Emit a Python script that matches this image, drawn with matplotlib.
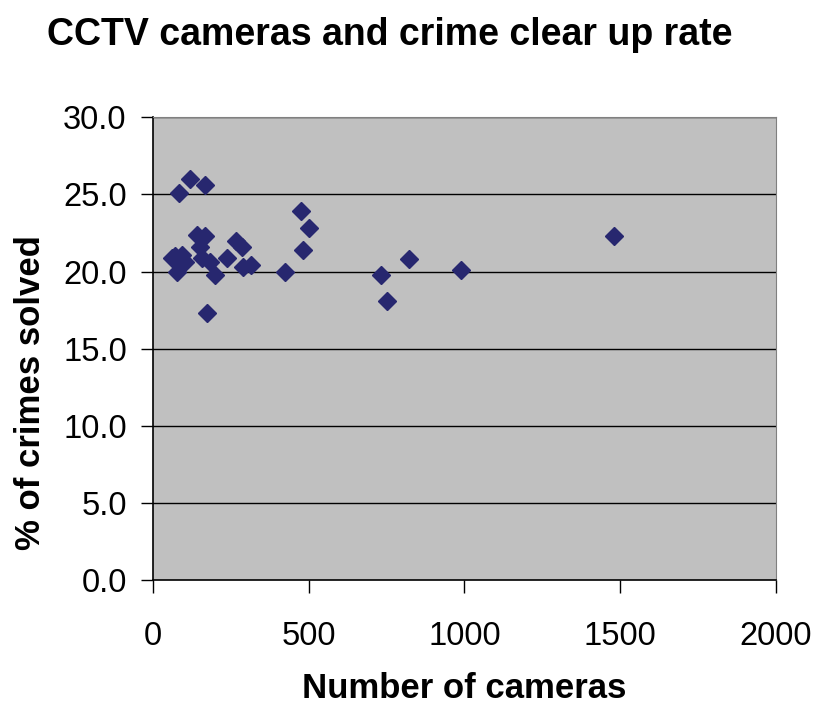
import matplotlib.pyplot as plt

plt.rcParams['font.family'] = ['Liberation Sans', 'DejaVu Sans']

# Number of cameras per area and % of crimes solved
cameras = [84, 117, 167, 475, 501, 483, 423, 174, 199, 60, 92, 76, 103, 70,
           140, 167, 151, 156, 183, 236, 266, 285, 290, 315, 823, 989, 1480,
           731, 750]
solved = [25.1, 26.0, 25.6, 23.9, 22.8, 21.4, 20.0, 17.3, 19.8, 20.9, 21.1,
          20.0, 20.6, 21.0, 22.4, 22.3, 21.6, 20.9, 20.6, 20.9, 22.0, 21.6,
          20.3, 20.4, 20.8, 20.1, 22.3, 19.8, 18.1]

x_ticks = [0, 500, 1000, 1500, 2000]
y_ticks = [0, 5, 10, 15, 20, 25, 30]

fig = plt.figure(figsize=(8.19, 7.06), dpi=100)
ax = fig.add_axes([0.187, 0.178, 0.760, 0.656])
ax.set_facecolor('#c0c0c0')

for y in y_ticks[1:]:
    ax.axhline(y, color='black', lw=1.0, zorder=1)

ax.plot(cameras, solved, linestyle='none', marker='D', markersize=9.3,
        color='#27276f', markeredgecolor='#27276f', zorder=3)

ax.set_xlim(0, 2000)
ax.set_ylim(0, 30)
ax.set_xticks(x_ticks)
ax.set_yticks(y_ticks)
ax.set_yticklabels(['%.1f' % v for v in y_ticks])
ax.tick_params(axis='both', labelsize=23.5, length=9, width=1, direction='out',
               color='black')
ax.tick_params(axis='y', pad=10)
ax.tick_params(axis='x', pad=20)

for side in ['top', 'right']:
    ax.spines[side].set_color('#808080')
for side in ['left', 'bottom']:
    ax.spines[side].set_color('black')
    ax.spines[side].set_linewidth(1.2)

ax.set_xlabel('Number of cameras', fontsize=25, fontweight='bold')
ax.set_ylabel('% of crimes solved', fontsize=25, fontweight='bold')
ax.xaxis.set_label_coords(0.5, -0.198)
ax.yaxis.set_label_coords(-0.171, 0.406)
fig.text(0.057, 0.95, 'CCTV cameras and crime clear up rate', fontsize=27,
         fontweight='bold', ha='left', va='center')

fig.savefig('out.png', dpi=100)
